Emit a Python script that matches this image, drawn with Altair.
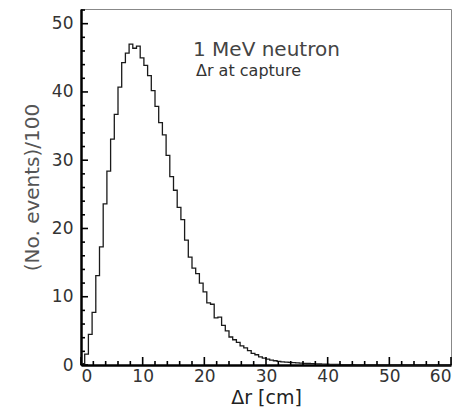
import altair as alt
import pandas as pd

# histogram: 100 bins of 0.6 cm from 0 to 60 (values in units of 100 events)
bin_width = 0.6
counts = [
    0.2, 1.6, 4.5, 7.7, 13.1, 17.3, 23.6, 28.4, 33.1, 36.7,
    40.7, 44.3, 45.7, 47.0, 46.4, 46.7, 45.0, 43.9, 42.4, 40.2,
    37.9, 35.5, 33.7, 30.7, 27.6, 25.6, 23.1, 21.3, 18.3, 15.8,
    14.2, 13.4, 12.0, 10.7, 9.1, 8.9, 6.9, 7.0, 5.8, 5.0,
    4.1, 3.7, 3.3, 2.8, 2.5, 2.1, 1.7, 1.5, 1.2, 1.0,
    0.85, 0.72, 0.62, 0.52, 0.46, 0.42, 0.38, 0.34, 0.30, 0.27,
    0.24, 0.22, 0.19, 0.17, 0.15, 0.13, 0.11, 0.10, 0.08, 0.07,
    0.06, 0.05, 0.05, 0.04, 0.03, 0.03, 0.02, 0.02, 0.02, 0.01,
    0.01, 0.01, 0.01, 0.01, 0.0, 0.0, 0.0, 0.0, 0.0, 0.0,
    0.0, 0.0, 0.0, 0.0, 0.0, 0.0, 0.0, 0.0, 0.0, 0.0,
]
x_major = [0, 10, 20, 30, 40, 50, 60]
x_minor = [2, 4, 6, 8, 12, 14, 16, 18, 22, 24, 26, 28, 32, 34, 36, 38,
           42, 44, 46, 48, 52, 54, 56, 58]
y_major = [0, 10, 20, 30, 40, 50]
y_minor = [2, 4, 6, 8, 12, 14, 16, 18, 22, 24, 26, 28, 32, 34, 36, 38,
           42, 44, 46, 48, 52]
title_text = "1 MeV neutron"
subtitle_text = "\u0394r at capture"
x_title = "\u0394r [cm]"
y_title = "(No. events)/100"

W, H = 370, 356
FONT = "DejaVu Sans"

edges = [round(i * bin_width, 4) for i in range(len(counts) + 1)]
hist = pd.DataFrame({"x": edges, "y": counts + [counts[-1]]})

xs = alt.Scale(domain=[0, 60], nice=False, zero=False)
ys = alt.Scale(domain=[0, 52.15], nice=False)

line = alt.Chart(hist).mark_line(
    interpolate="step-after", color="#1a1a1a", strokeWidth=1.3
).encode(
    x=alt.X("x:Q", scale=xs, axis=alt.Axis(
        values=x_major, title=x_title, ticks=False, tickSize=0, grid=False,
        domainColor="black", domainWidth=2.5, labelFontSize=17,
        labelColor="#333", labelPadding=3, labelFont=FONT,
        titleFont=FONT, titleFontSize=19, titleFontWeight="normal",
        titleColor="#222", titlePadding=4)),
    y=alt.Y("y:Q", scale=ys, axis=alt.Axis(
        values=y_major, title=y_title, ticks=False, tickSize=0, grid=False,
        domainColor="black", domainWidth=2.5, labelFontSize=17,
        labelColor="#333", labelPadding=8, labelFont=FONT,
        titleFont=FONT, titleFontSize=20, titleFontWeight="normal",
        titleColor="#555", titlePadding=9)),
)

def xticks(vals, length):
    return alt.Chart(pd.DataFrame({"v": vals})).mark_rule(
        color="black", strokeWidth=1.6
    ).encode(x=alt.X("v:Q", scale=xs), y=alt.value(H), y2=alt.value(H - length))

def yticks(vals, length):
    return alt.Chart(pd.DataFrame({"v": vals})).mark_rule(
        color="black", strokeWidth=1.6
    ).encode(y=alt.Y("v:Q", scale=ys), x=alt.value(0), x2=alt.value(length))

t1 = alt.Chart(pd.DataFrame({"t": [title_text]})).mark_text(
    align="left", baseline="alphabetic", font=FONT, fontSize=20, color="#444"
).encode(text="t:N", x=alt.value(112), y=alt.value(47))

t2 = alt.Chart(pd.DataFrame({"t": [subtitle_text]})).mark_text(
    align="left", baseline="alphabetic", font=FONT, fontSize=16, color="#333"
).encode(text="t:N", x=alt.value(115), y=alt.value(67))

chart = alt.layer(
    line, xticks(x_major, 8), xticks(x_minor, 4),
    yticks(y_major, 7), yticks(y_minor, 4), t1, t2
).properties(
    width=W, height=H,
    autosize=alt.AutoSizeParams(type="none"),
    padding={"left": 73, "top": 1, "right": 10, "bottom": 42},
    background="white",
).configure_view(stroke="#888", strokeWidth=1)

chart.save("out.html", embed_options={"renderer": "svg", "actions": False})
